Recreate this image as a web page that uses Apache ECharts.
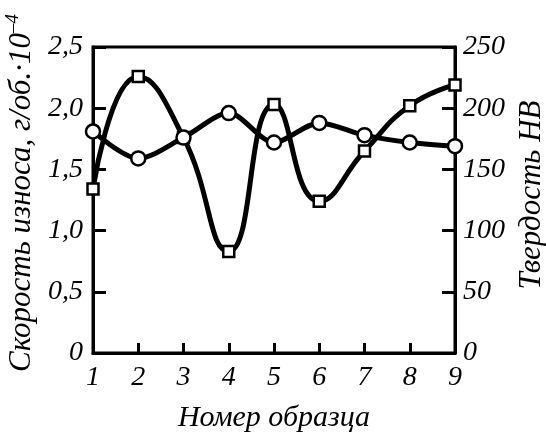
<!DOCTYPE html>
<html>
<head>
<meta charset="utf-8">
<script src="https://cdn.jsdelivr.net/npm/echarts@6/dist/echarts.min.js"></script>
<style>
  html, body { margin: 0; padding: 0; background: #fff; }
  #chart { width: 546px; height: 432px; }
</style>
</head>
<body>
<div id="chart"></div>
<script>
// Sample numbers along the x axis
const samples = [1, 2, 3, 4, 5, 6, 7, 8, 9];
// Wear rate, g/rev ×10^-4 (circles, left axis)
const wearRate = [1.81, 1.59, 1.76, 1.96, 1.72, 1.88, 1.78, 1.72, 1.69];
// Hardness HB (squares, right axis)
const hardness = [134, 226, 176, 83, 203, 124, 165, 202, 219];
// Axis ranges
const wearTicks = [0, 0.5, 1.0, 1.5, 2.0, 2.5];
const hardTicks = [0, 50, 100, 150, 200, 250];

const FONT = '"Liberation Serif", "Times New Roman", serif';
const labelStyle = { fontFamily: FONT, fontStyle: 'italic', fontSize: 28, color: '#000' };

const chart = echarts.init(document.getElementById('chart'), null, { renderer: 'canvas' });

chart.setOption({
  animation: false,
  backgroundColor: '#fff',
  grid: {
    left: 93, right: 91, top: 47, bottom: 79,
    containLabel: false, outerBoundsMode: 'none',
    show: true, borderColor: '#000', borderWidth: 3, backgroundColor: 'transparent'
  },
  xAxis: {
    type: 'value',
    min: samples[0], max: samples[samples.length - 1], interval: 1,
    name: 'Номер образца',
    nameLocation: 'middle', nameGap: 50,
    nameTextStyle: Object.assign({}, labelStyle, { fontSize: 30 }),
    axisLine: { show: true, lineStyle: { color: '#000', width: 3 } },
    axisTick: { show: true, inside: true, length: 10, lineStyle: { color: '#000', width: 3 } },
    axisLabel: Object.assign({}, labelStyle, { margin: 11 }),
    splitLine: { show: false }
  },
  yAxis: [
    {
      type: 'value', position: 'left',
      min: wearTicks[0], max: wearTicks[wearTicks.length - 1], interval: 0.5,
      name: '{m|Скорость износа, г/об.·10}{s|–4}',
      nameLocation: 'middle', nameGap: 53, nameRotate: 90,
      nameTextStyle: {
        fontFamily: FONT, fontStyle: 'italic', color: '#000',
        padding: [0, 0, 0, 14],
        rich: {
          m: { fontFamily: FONT, fontStyle: 'italic', fontSize: 31, color: '#000', verticalAlign: 'bottom', lineHeight: 34 },
          s: { fontFamily: FONT, fontStyle: 'italic', fontSize: 19, color: '#000', verticalAlign: 'top', lineHeight: 34 }
        }
      },
      axisLine: { show: true, lineStyle: { color: '#000', width: 3 } },
      axisTick: { show: true, inside: true, length: 13, lineStyle: { color: '#000', width: 3 } },
      axisLabel: Object.assign({}, labelStyle, {
        margin: 10,
        formatter: v => v === 0 ? '0' : v.toFixed(1).replace('.', ',')
      }),
      splitLine: { show: false }
    },
    {
      type: 'value', position: 'right',
      min: hardTicks[0], max: hardTicks[hardTicks.length - 1], interval: 50,
      name: 'Твердость НВ',
      nameLocation: 'middle', nameGap: 57, nameRotate: 90,
      nameTextStyle: Object.assign({}, labelStyle, { fontSize: 31, padding: [0, 0, 0, 10] }),
      axisLine: { show: true, lineStyle: { color: '#000', width: 3 } },
      axisTick: { show: true, inside: true, length: 13, lineStyle: { color: '#000', width: 3 } },
      axisLabel: Object.assign({}, labelStyle, { margin: 8 }),
      splitLine: { show: false }
    }
  ],
  series: [
    {
      name: 'Твердость',
      type: 'line', yAxisIndex: 1,
      data: samples.map((s, i) => [s, hardness[i]]),
      smooth: 0.5,
      symbol: 'rect', symbolSize: 11,
      lineStyle: { color: '#000', width: 5 },
      itemStyle: { color: '#fff', borderColor: '#000', borderWidth: 2.5 },
      z: 2
    },
    {
      name: 'Скорость износа',
      type: 'line', yAxisIndex: 0,
      data: samples.map((s, i) => [s, wearRate[i]]),
      smooth: 0.3,
      symbol: 'circle', symbolSize: 14,
      lineStyle: { color: '#000', width: 5 },
      itemStyle: { color: '#fff', borderColor: '#000', borderWidth: 2.5 },
      z: 3
    }
  ]
});
</script>
</body>
</html>
